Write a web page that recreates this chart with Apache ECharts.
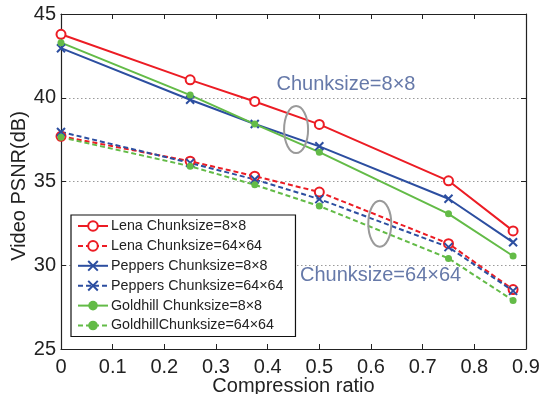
<!DOCTYPE html>
<html>
<head>
<meta charset="utf-8">
<script src="https://cdn.jsdelivr.net/npm/echarts@6/dist/echarts.min.js"></script>
<style>
html,body{margin:0;padding:0;background:#fff;overflow:hidden;}
#c{width:544px;height:394px;}
</style>
</head>
<body>
<div id="c"></div>
<script>
const ratios = [0, 0.25, 0.375, 0.5, 0.75, 0.875];
const lena8 = [43.79, 41.07, 39.78, 38.41, 35.04, 32.05];
const lena64 = [37.70, 36.21, 35.32, 34.37, 31.29, 28.55];
const peppers8 = [42.96, 39.88, 38.43, 37.10, 33.97, 31.37];
const peppers64 = [37.96, 36.11, 35.12, 33.95, 31.08, 28.47];
const goldhill8 = [43.29, 40.16, 38.43, 36.75, 33.07, 30.55];
const goldhill64 = [37.64, 35.91, 34.80, 33.53, 30.41, 27.90];
const xTicks = ['0','0.1','0.2','0.3','0.4','0.5','0.6','0.7','0.8','0.9'];
const seriesNames = ['Lena Chunksize=8×8','Lena Chunksize=64×64','Peppers Chunksize=8×8','Peppers Chunksize=64×64','Goldhill Chunksize=8×8','GoldhillChunksize=64×64'];

const RED = '#ec1c24', BLUE = '#2c4ea0', GREEN = '#63bb47', NOTE = '#6679a9';
const FONT = 'Liberation Sans, Arial, sans-serif';
const CROSS = 'path://M0,0L10,10M10,0L0,10';

function pair(ys){ return ratios.map((x,i)=>[x, ys[i]]); }

function mk(name, ys, color, dashed, kind){
  const s = {
    name, type:'line', data: pair(ys), xAxisIndex:0, yAxisIndex:0,
    lineStyle:{color, width:2, type: dashed ? [5,3] : 'solid'},
    z: 3
  };
  if(kind==='o'){
    s.symbol='emptyCircle'; s.symbolSize=9;
    s.itemStyle={color, borderColor:color, borderWidth:1.8};
  } else if(kind==='x'){
    s.symbol=CROSS; s.symbolSize=8;
    s.itemStyle={color, borderColor:color, borderWidth:2};
  } else {
    s.symbol='circle'; s.symbolSize=7;
    s.itemStyle={color, borderColor:color, borderWidth:0};
  }
  return s;
}

const chart = echarts.init(document.getElementById('c'), null, {renderer:'canvas'});
const axisCommon = {
  axisLine:{show:true, onZero:false, lineStyle:{color:'#222', width:1.2}},
  axisTick:{show:true, inside:true, length:5, lineStyle:{color:'#222', width:1}},
};
const option = {
  animation:false,
  backgroundColor:'#fff',
  textStyle:{fontFamily:FONT},
  grid:{left:61, right:18, top:14, bottom:45, containLabel:false, outerBoundsMode:'none'},
  xAxis:[
    Object.assign({type:'value', min:0, max:0.9, interval:0.1, position:'bottom',
      axisLabel:{fontSize:20, color:'#222', margin:8, fontFamily:FONT,
        formatter:(v)=>{const i=Math.round(v*10); return xTicks[i]!==undefined?xTicks[i]:'';}},
      splitLine:{show:false},
      name:'Compression ratio', nameLocation:'middle', nameGap:27, nameMoveOverlap:false,
      nameTextStyle:{fontSize:20, color:'#222', fontFamily:FONT}
    }, axisCommon),
    Object.assign({type:'value', min:0, max:0.9, interval:0.1, position:'top',
      axisLabel:{show:false}, splitLine:{show:false}}, axisCommon)
  ],
  yAxis:[
    Object.assign({type:'value', min:25, max:45, interval:5, position:'left',
      axisLabel:{fontSize:20, color:'#222', margin:5, fontFamily:FONT},
      splitLine:{show:true, lineStyle:{color:'#9a9a9a', type:[1.5,2.5], width:1}},
      name:'Video PSNR(dB)', nameLocation:'middle', nameGap:32, nameRotate:90, nameMoveOverlap:false,
      nameTextStyle:{fontSize:20, color:'#222', fontFamily:FONT, padding:[0,9,0,0]}
    }, axisCommon),
    Object.assign({type:'value', min:25, max:45, interval:5, position:'right',
      axisLabel:{show:false}, splitLine:{show:false}}, axisCommon)
  ],
  legend:{
    orient:'vertical', left:71, top:215,
    backgroundColor:'#fff', borderColor:'#111', borderWidth:1.2,
    padding:[4,12,4,6], itemGap:5.9, itemWidth:30, itemHeight:12,
    textStyle:{fontSize:14.3, color:'#222', fontFamily:FONT, padding:[0,0,0,-2]},
    data: seriesNames,
    z: 10
  },
  series:[
    mk(seriesNames[0], lena8, RED, false, 'o'),
    mk(seriesNames[1], lena64, RED, true, 'o'),
    mk(seriesNames[2], peppers8, BLUE, false, 'x'),
    mk(seriesNames[3], peppers64, BLUE, true, 'x'),
    mk(seriesNames[4], goldhill8, GREEN, false, 'd'),
    mk(seriesNames[5], goldhill64, GREEN, true, 'd')
  ]
};
chart.setOption(option);

// annotations placed in data coordinates
const p = (x,y)=>chart.convertToPixel({xAxisIndex:0, yAxisIndex:0}, [x,y]);
const e1 = p(0.455, 38.1), e2 = p(0.617, 32.48);
const t1 = p(0.417, 40.77), t2 = p(0.4625, 29.36);
chart.setOption({
  graphic:[
    {type:'ellipse', shape:{cx:e1[0], cy:e1[1], rx:12, ry:23.5}, style:{fill:'none', stroke:'#9a9a9a', lineWidth:2}, z:5},
    {type:'ellipse', shape:{cx:e2[0], cy:e2[1], rx:11.5, ry:23}, style:{fill:'none', stroke:'#9a9a9a', lineWidth:2}, z:5},
    {type:'text', x:t1[0], y:t1[1], style:{text:'Chunksize=8×8', fontSize:20, fill:NOTE, fontFamily:FONT, verticalAlign:'middle'}, z:6},
    {type:'text', x:t2[0], y:t2[1], style:{text:'Chunksize=64×64', fontSize:20, fill:NOTE, fontFamily:FONT, verticalAlign:'middle'}, z:6}
  ]
});
</script>
</body>
</html>
